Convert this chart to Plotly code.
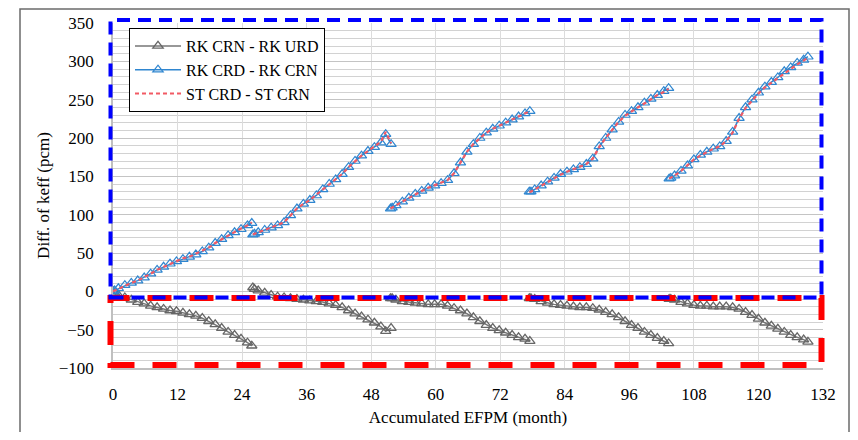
import plotly.graph_objects as go

# ---------------- data ----------------
efpm = [
    0, 0.3, 1.0, 2.2, 3.4, 4.6, 5.8, 7.0, 8.2, 9.4, 10.6, 11.8, 13.0, 14.2, 15.4, 16.6, 17.8, 19.0, 20.2, 21.4, 22.6, 23.8, 25.0, 25.8,
    None,
    26.0, 26.3, 27.0, 28.2, 29.4, 30.6, 31.8, 33.0, 34.2, 35.4, 36.6, 37.8, 39.0, 40.2, 41.4, 42.6, 43.8, 45.0, 46.2, 47.4, 48.6, 49.8, 50.7, 51.7,
    None,
    51.6, 51.9, 52.6, 53.8, 55.0, 56.2, 57.4, 58.6, 59.8, 61.0, 62.2, 63.4, 64.6, 65.8, 67.0, 68.2, 69.4, 70.6, 71.8, 73.0, 74.2, 75.4, 76.6, 77.5,
    None,
    77.4, 77.7, 78.4, 79.6, 80.8, 82.0, 83.2, 84.4, 85.6, 86.8, 88.0, 89.2, 90.4, 91.6, 92.8, 94.0, 95.2, 96.4, 97.6, 98.8, 100.0, 101.2, 102.4, 103.3,
    None,
    103.4, 103.7, 104.4, 105.6, 106.8, 108.0, 109.2, 110.4, 111.6, 112.8, 114.0, 115.2, 116.4, 117.6, 118.8, 120.0, 121.2, 122.4, 123.6, 124.8, 126.0, 127.2, 128.4, 129.2,
]

rk_crn_minus_rk_urd = [
    0, -2, -5, -8, -11, -14, -16, -19, -21, -23, -25, -26, -28, -30, -32, -35, -39, -43, -48, -53, -57, -62, -67, -71,
    None,
    5, 3, 1, -2, -5, -7, -8, -9, -10, -11, -12, -13, -14, -16, -18, -21, -25, -29, -33, -37, -41, -46, -52, -48,
    None,
    -9, -9, -11, -13, -14, -15, -16, -17, -17, -17, -19, -22, -25, -29, -34, -39, -44, -48, -51, -54, -57, -60, -62, -65,
    None,
    -9, -9, -10, -13, -15, -17, -18, -19, -20, -21, -21, -22, -24, -27, -30, -34, -39, -44, -48, -53, -57, -61, -65, -68,
    None,
    -10, -10, -11, -14, -16, -18, -19, -19, -20, -20, -20, -21, -23, -27, -31, -36, -41, -45, -49, -53, -57, -60, -63, -66,
]

rk_crd_minus_rk_crn = [
    0, 1, 4, 8, 11, 14, 18, 23, 28, 32, 36, 39, 42, 45, 48, 52, 57, 63, 68, 73, 77, 81, 86, 89,
    None,
    74, 75, 77, 80, 83, 86, 90, 99, 108, 114, 119, 125, 133, 140, 146, 153, 162, 170, 177, 183, 188, 194, 205, 192,
    None,
    108, 109, 112, 117, 122, 127, 131, 135, 138, 141, 145, 154, 168, 182, 192, 200, 207, 212, 216, 220, 224, 228, 232, 235,
    None,
    130, 130, 133, 138, 143, 148, 153, 156, 159, 162, 166, 173, 189, 200, 211, 221, 230, 235, 240, 246, 251, 256, 261, 265,
    None,
    147, 148, 151, 157, 164, 172, 178, 182, 186, 189, 196, 208, 226, 240, 250, 259, 267, 273, 279, 287, 292, 298, 302, 306,
]

st_crd_minus_st_crn = [
    0, 1, 4, 8, 11, 14, 18, 23, 28, 32, 36, 40, 43, 45, 49, 52, 57, 63, 68, 73, 77, 82, 86, 90,
    None,
    74, 75, 77, 80, 83, 86, 90, 99, 108, 114, 119, 126, 133, 140, 147, 153, 162, 170, 177, 183, 189, 195, 208, 193,
    None,
    108, 109, 112, 117, 122, 127, 131, 135, 138, 141, 145, 154, 169, 182, 192, 200, 207, 212, 216, 220, 224, 228, 232, 235,
    None,
    130, 130, 133, 138, 143, 148, 152, 156, 159, 162, 166, 173, 188, 200, 211, 221, 229, 235, 240, 245, 251, 256, 260, 264,
    None,
    147, 148, 151, 157, 164, 172, 177, 182, 186, 189, 196, 207, 225, 239, 249, 258, 266, 272, 278, 285, 290, 296, 301, 305,
]

series_names = ["RK CRN - RK URD", "RK CRD - RK CRN", "ST CRD - ST CRN"]
x_ticks = [0, 12, 24, 36, 48, 60, 72, 84, 96, 108, 120, 132]
y_ticks = [-100, -50, 0, 50, 100, 150, 200, 250, 300, 350]

FONT = '"Liberation Serif", "Times New Roman", Times, "DejaVu Serif", serif'
FS = 17

fig = go.Figure()
fig.add_trace(go.Scatter(
    x=efpm, y=rk_crn_minus_rk_urd, name=series_names[0], mode="lines+markers",
    line=dict(color="#767676", width=1.5),
    marker=dict(symbol="triangle-up-open", size=9, color="#666666", line=dict(width=1.3)),
    connectgaps=False,
))
fig.add_trace(go.Scatter(
    x=efpm, y=rk_crd_minus_rk_crn, name=series_names[1], mode="lines+markers",
    line=dict(color="#2f86d0", width=1.5),
    marker=dict(symbol="triangle-up-open", size=9, color="#2f86d0", line=dict(width=1.2)),
    connectgaps=False,
))
fig.add_trace(go.Scatter(
    x=efpm, y=st_crd_minus_st_crn, name=series_names[2], mode="lines",
    line=dict(color="#f25a64", width=2.2, dash="4px,3px"),
    connectgaps=False,
))

# page has an 8px body margin; target plot area on page: x 113..823, y 23..368
OFF = 8
W, H = 842, 424
L, R, T, B = 113 - OFF, (OFF + W) - 823, 23 - OFF, (OFF + H) - 368
pw, ph = W - L - R, H - T - B


def px(xp):
    return (xp - OFF - L) / pw


def py(yp):
    return (H - B - (yp - OFF)) / ph


shapes = [
    # outer figure border
    dict(type="rect", xref="paper", yref="paper", x0=px(20), x1=px(849), y0=py(445), y1=py(9),
         line=dict(color="#6b6b6b", width=1.5), fillcolor="rgba(0,0,0,0)", layer="below"),
    # red dashed box (negative region)
    dict(type="rect", xref="paper", yref="paper", x0=px(110.5), x1=px(821.5), y0=py(365), y1=py(298),
         line=dict(color="#ff0000", width=6, dash="24px,18px"), fillcolor="rgba(0,0,0,0)"),
    # blue dashed box (positive region)
    dict(type="rect", xref="paper", yref="paper", x0=px(110.5), x1=px(821.5), y0=py(297.5), y1=py(20),
         line=dict(color="#0000ff", width=4, dash="13px,8px"), fillcolor="rgba(0,0,0,0)"),
]

fig.update_layout(
    width=W, height=H,
    margin=dict(l=L, r=R, t=T, b=B, autoexpand=False),
    paper_bgcolor="white", plot_bgcolor="white",
    font=dict(family=FONT, size=FS, color="black"),
    showlegend=True,
    legend=dict(
        x=px(129), y=py(28), xanchor="left", yanchor="top",
        bgcolor="white", bordercolor="black", borderwidth=1,
        font=dict(family=FONT, size=16, color="black"),
        tracegroupgap=0, itemwidth=46,
    ),
    shapes=shapes,
    xaxis=dict(
        range=[0, 132], tickmode="array", tickvals=x_ticks,
        showgrid=True, gridcolor="#dcdcdc", gridwidth=1,
        showline=True, linecolor="#c0c0c0", linewidth=1.5, mirror=False,
        zeroline=False, ticks="", ticklabelstandoff=10,
        tickfont=dict(family=FONT, size=FS, color="black"),
        title=dict(text="Accumulated EFPM (month)", font=dict(family=FONT, size=FS, color="black"), standoff=8),
    ),
    yaxis=dict(
        range=[-100, 350], tickmode="array", tickvals=y_ticks,
        showgrid=True, gridcolor="#c4c4c4", gridwidth=1,
        minor=dict(dtick=10, showgrid=True, gridcolor="#d2d2d2", gridwidth=1, tick0=0),
        showline=True, linecolor="#c0c0c0", linewidth=1.5,
        zeroline=False, ticks="", ticklabelstandoff=14,
        tickfont=dict(family=FONT, size=FS, color="black"),
        title=dict(text="Diff. of keff (pcm)", font=dict(family=FONT, size=FS, color="black"), standoff=5),
    ),
)

fig.write_html("out.html")
